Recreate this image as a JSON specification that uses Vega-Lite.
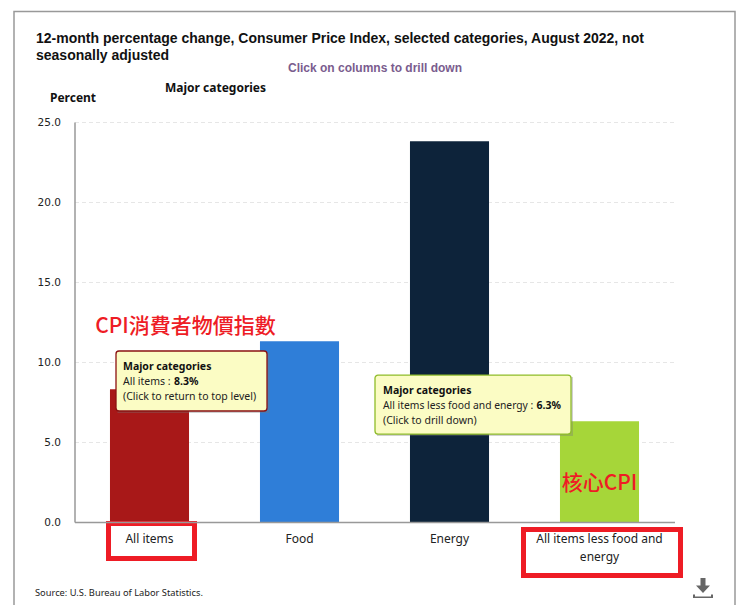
{"$schema":"https://vega.github.io/schema/vega-lite/v6.json","autosize":"none","width":600,"height":400,"padding":{"left":74.5,"top":122,"right":62.5,"bottom":83},"background":"white","view":{"stroke":null},
"title":{"text":["12-month percentage change, Consumer Price Index, selected categories, August 2022, not","seasonally adjusted"],"anchor":"start","frame":"group","dx":-38.5,"dy":53,"offset":1,"font":"Liberation Sans","fontSize":14,"fontWeight":"bold","color":"#111111","lineHeight":17},
"data":{"values":[{}]},
"layer":[
{"mark":{"type":"rect","fill":null,"stroke":"#999999","strokeWidth":1.5,"width":721,"height":640,"xOffset":225,"yOffset":9.5,"clip":false},"encoding":{"x":{"datum":"All items","type":"nominal"},"y":{"datum":12.5,"type":"quantitative"}}},
{"data":{"values":[{"category":"All items","value":8.3},{"category":"Food","value":11.3},{"category":"Energy","value":23.8},{"category":"All items less food and energy","value":6.3}]},"mark":{"type":"bar"},"encoding":{
"x":{"field":"category","type":"nominal","sort":null,"scale":{"domain":["All items","Food","Energy","All items less food and energy"],"paddingInner":0.473,"paddingOuter":0.2365},"axis":{"title":null,"labelAngle":0,"labelAlign":"center","labelBaseline":"top","labelFont":"Noto Sans","labelFontSize":12,"labelColor":"#222222","labelPadding":11,"ticks":false,"domainColor":"#999999","domainWidth":1.5,"labelLimit":200,"labelLineHeight":18,"labelExpr":"datum.label=='All items less food and energy'?['All items less food and','energy']:datum.label"}},
"y":{"field":"value","type":"quantitative","scale":{"domain":[0,25],"nice":false},"axis":{"title":null,"values":[0,5,10,15,20,25],"format":".1f","labelFont":"DejaVu Sans","labelFontSize":10.5,"labelColor":"#222222","labelPadding":14,"ticks":false,"domainColor":"#999999","domainWidth":1.5,"grid":true,"gridColor":"#e6e6e6","gridDash":[4,3],"gridWidth":1}},
"color":{"field":"category","type":"nominal","legend":null,"scale":{"domain":["All items","Food","Energy","All items less food and energy"],"range":["#A81818","#2F7ED8","#0D233A","#A6D639"]}}}},
{"mark":{"type":"rect","fill":"#777777","opacity":0.35,"width":152,"height":60,"xOffset":44,"yOffset":2},"encoding":{"x":{"datum":"All items","type":"nominal"},"y":{"datum":8.8125,"type":"quantitative"}}},
{"mark":{"type":"rect","fill":"#FBFCC4","stroke":"#8B1212","strokeWidth":1.3,"cornerRadius":3,"width":151,"height":60,"xOffset":42,"yOffset":0},"encoding":{"x":{"datum":"All items","type":"nominal"},"y":{"datum":8.8125,"type":"quantitative"}}},
{"mark":{"type":"rect","fill":"#777777","opacity":0.35,"width":196,"height":59,"xOffset":25.5,"yOffset":2},"encoding":{"x":{"datum":"Energy","type":"nominal"},"y":{"datum":7.34,"type":"quantitative"}}},
{"mark":{"type":"rect","fill":"#FBFCC4","stroke":"#8FBC2A","strokeWidth":1.3,"cornerRadius":3,"width":196,"height":59,"xOffset":23.5,"yOffset":0},"encoding":{"x":{"datum":"Energy","type":"nominal"},"y":{"datum":7.34,"type":"quantitative"}}},
{"mark":{"type":"rect","fill":null,"stroke":"#EE1C25","strokeWidth":5,"width":86,"height":35,"xOffset":2,"yOffset":19},"encoding":{"x":{"datum":"All items","type":"nominal"},"y":{"datum":0,"type":"quantitative"}}},
{"mark":{"type":"rect","fill":null,"stroke":"#EE1C25","strokeWidth":5,"width":157,"height":46,"xOffset":2.5,"yOffset":30.5},"encoding":{"x":{"datum":"All items less food and energy","type":"nominal"},"y":{"datum":0,"type":"quantitative"}}},
{"mark":{"type":"point","shape":"M-0.25,-1 L0.25,-1 L0.25,-0.25 L0.7,-0.25 L0,0.5 L-0.7,-0.25 L-0.25,-0.25 Z M-1,0.65 L-0.8,0.65 L-0.8,0.85 L0.8,0.85 L0.8,0.65 L1,0.65 L1,1 L-1,1 Z","filled":true,"fill":"#666666","opacity":1,"size":400,"xOffset":103.5,"yOffset":66},"encoding":{"x":{"datum":"All items less food and energy","type":"nominal"},"y":{"datum":0,"type":"quantitative"}}},
{"mark":{"type":"text","text":"Major categories","align":"left","baseline":"middle","font":"Noto Sans","fontSize":10.5,"fontWeight":"bold","color":"#111111","xOffset":-26.5,"yOffset":-14},"encoding":{"x":{"datum":"All items","type":"nominal"},"y":{"datum":8.8125,"type":"quantitative"}}},
{"mark":{"type":"text","text":"All items : ","align":"left","baseline":"middle","font":"Noto Sans","fontSize":10.5,"color":"#222222","xOffset":-26.5,"yOffset":1},"encoding":{"x":{"datum":"All items","type":"nominal"},"y":{"datum":8.8125,"type":"quantitative"}}},
{"mark":{"type":"text","text":"8.3%","align":"left","baseline":"middle","font":"Noto Sans","fontSize":10.5,"fontWeight":"bold","color":"#111111","xOffset":24.5,"yOffset":1},"encoding":{"x":{"datum":"All items","type":"nominal"},"y":{"datum":8.8125,"type":"quantitative"}}},
{"mark":{"type":"text","text":"(Click to return to top level)","align":"left","baseline":"middle","font":"Noto Sans","fontSize":10.5,"color":"#222222","xOffset":-26.5,"yOffset":16},"encoding":{"x":{"datum":"All items","type":"nominal"},"y":{"datum":8.8125,"type":"quantitative"}}},
{"mark":{"type":"text","text":"Major categories","align":"left","baseline":"middle","font":"Noto Sans","fontSize":10.5,"fontWeight":"bold","color":"#111111","xOffset":-66.5,"yOffset":-14},"encoding":{"x":{"datum":"Energy","type":"nominal"},"y":{"datum":7.34,"type":"quantitative"}}},
{"mark":{"type":"text","text":"All items less food and energy : ","align":"left","baseline":"middle","font":"Noto Sans","fontSize":10.3,"color":"#222222","xOffset":-66.5,"yOffset":1},"encoding":{"x":{"datum":"Energy","type":"nominal"},"y":{"datum":7.34,"type":"quantitative"}}},
{"mark":{"type":"text","text":"6.3%","align":"left","baseline":"middle","font":"Noto Sans","fontSize":10.5,"fontWeight":"bold","color":"#111111","xOffset":87,"yOffset":1},"encoding":{"x":{"datum":"Energy","type":"nominal"},"y":{"datum":7.34,"type":"quantitative"}}},
{"mark":{"type":"text","text":"(Click to drill down)","align":"left","baseline":"middle","font":"Noto Sans","fontSize":10.5,"color":"#222222","xOffset":-66.5,"yOffset":16},"encoding":{"x":{"datum":"Energy","type":"nominal"},"y":{"datum":7.34,"type":"quantitative"}}},
{"mark":{"type":"text","text":"CPI消費者物價指數","font":"Noto Sans CJK TC","fontSize":21,"fontWeight":500,"color":"#EE1C25","xOffset":36,"yOffset":0},"encoding":{"x":{"datum":"All items","type":"nominal"},"y":{"datum":12.19,"type":"quantitative"}}},
{"mark":{"type":"text","text":"核心CPI","font":"Noto Sans CJK TC","fontSize":21,"fontWeight":500,"color":"#EE1C25"},"encoding":{"x":{"datum":"All items less food and energy","type":"nominal"},"y":{"datum":2.35,"type":"quantitative"}}},
{"mark":{"type":"text","text":"Click on columns to drill down","font":"Liberation Sans","fontSize":12,"fontWeight":"bold","color":"#7A5C8E","xOffset":75.5,"yOffset":-54},"encoding":{"x":{"datum":"Food","type":"nominal"},"y":{"datum":25,"type":"quantitative"}}},
{"mark":{"type":"text","text":"Major categories","font":"Noto Sans","fontSize":12,"fontWeight":"bold","color":"#111111","xOffset":66,"yOffset":-34},"encoding":{"x":{"datum":"All items","type":"nominal"},"y":{"datum":25,"type":"quantitative"}}},
{"mark":{"type":"text","text":"Percent","font":"Noto Sans","fontSize":12,"fontWeight":"bold","color":"#111111","xOffset":-76.5,"yOffset":-24},"encoding":{"x":{"datum":"All items","type":"nominal"},"y":{"datum":25,"type":"quantitative"}}},
{"mark":{"type":"text","text":"Source: U.S. Bureau of Labor Statistics.","align":"left","font":"Noto Sans","fontSize":9.3,"color":"#222222","xOffset":-114.5,"yOffset":71},"encoding":{"x":{"datum":"All items","type":"nominal"},"y":{"datum":0,"type":"quantitative"}}}
]}
